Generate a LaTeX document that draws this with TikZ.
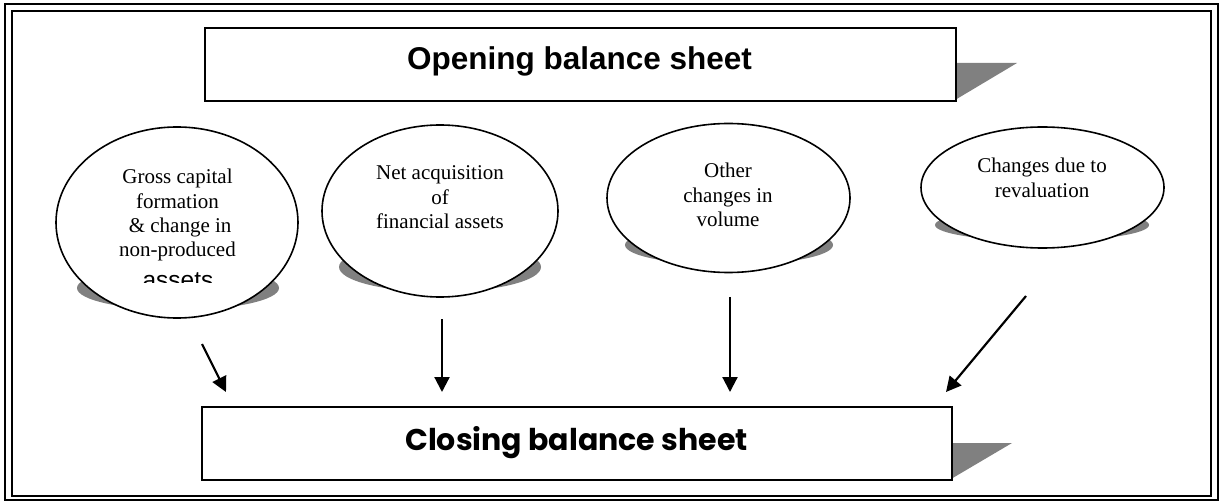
\documentclass[tikz,border=0pt]{standalone}
\usepackage{fontspec}
\setmainfont{Liberation Serif}
\newfontfamily\arialf{Liberation Sans}
\newfontfamily\gothicf{Poppins}
\usetikzlibrary{arrows.meta,shapes.geometric}
\begin{document}
\begin{tikzpicture}[x=1pt,y=-1pt,
  frameline/.style={draw=black,line width=2pt},
  titlebox/.style={draw=black,line width=2pt,fill=white},
  tri/.style={fill=black!50,draw=none},
  bubble/.style={ellipse,draw=black,line width=1.6pt,fill=white,inner sep=0pt},
  shade/.style={ellipse,fill=black!50,draw=none,inner sep=0pt},
  bubtext/.style={align=center,font=\fontsize{21}{24.4}\selectfont,inner sep=0pt},
  flow/.style={line width=2.2pt,-{Triangle[length=15pt,width=15pt]}}]
\useasboundingbox (0,0) rectangle (1222,502);
\fill[white] (0,0) rectangle (1222,502);
% double frame
\draw[frameline] (5,4.5) rectangle (1217.5,500);
\draw[frameline] (12,11.5) rectangle (1211,495.5);
% opening balance sheet
\fill[tri] (955,63) -- (1017,63) -- (955,100) -- cycle;
\node[titlebox,minimum width=751pt,minimum height=73pt,anchor=north west] (open) at (204,27) {};
\node[anchor=base,inner sep=0pt,font=\arialf\bfseries\fontsize{31.5}{36}\selectfont] (opent) at (579.5,70) {Opening balance sheet};
% closing balance sheet
\fill[tri] (951,443) -- (1012,443) -- (951,479) -- cycle;
\node[titlebox,minimum width=750pt,minimum height=73pt,anchor=north west] (close) at (201,406) {};
\node[anchor=base,inner sep=0pt,font=\gothicf\bfseries\fontsize{30}{34}\selectfont] (closet) at (576.5,450) {Closing balance sheet};
% shadows of the bubbles
\node[shade,minimum width=202pt,minimum height=44pt] (s1) at (178,288) {};
\node[shade,minimum width=202pt,minimum height=50pt] (s2) at (440,267) {};
\node[shade,minimum width=208pt,minimum height=40pt] (s3) at (729,245) {};
\node[shade,minimum width=214pt,minimum height=32pt] (s4) at (1042,225) {};
% bubbles
\node[bubble,minimum width=242pt,minimum height=191pt] (e1) at (177,222.5) {};
\node[bubble,minimum width=236pt,minimum height=172pt] (e2) at (440,211) {};
\node[bubble,minimum width=243pt,minimum height=149pt] (e3) at (728.5,198) {};
\node[bubble,minimum width=243pt,minimum height=121pt] (e4) at (1042.5,187.5) {};
% bubble texts
\node[bubtext] (t1) at (177.5,215.2) {Gross capital\\formation\\\ \& change in\\non-produced};
\begin{scope}
\clip (100,260) rectangle (260,283);
\node[anchor=base,inner sep=0pt,font=\arialf\fontsize{24.5}{28}\selectfont] (t1b) at (178,288) {assets};
\end{scope}
\node[bubtext] (t2) at (440,197.5) {Net acquisition\\of\\financial assets};
\node[bubtext] (t3) at (728,195) {Other\\changes in\\volume};
\node[bubtext] (t4) at (1042,178) {Changes due to\\revaluation};
% arrows
\coordinate (a1s) at (202,344); \coordinate (a1e) at (226,392);
\coordinate (a2s) at (442,319); \coordinate (a2e) at (442,392);
\coordinate (a3s) at (730,297); \coordinate (a3e) at (730,392);
\coordinate (a4s) at (1026,296); \coordinate (a4e) at (946,392);
\draw[flow] (a1s) -- (a1e);
\draw[flow] (a2s) -- (a2e);
\draw[flow] (a3s) -- (a3e);
\draw[flow] (a4s) -- (a4e);
\end{tikzpicture}
\end{document}
